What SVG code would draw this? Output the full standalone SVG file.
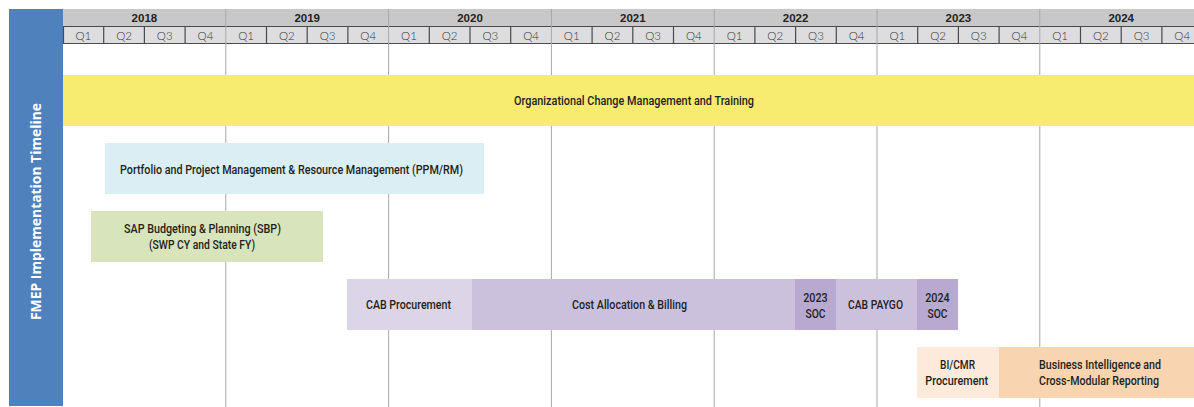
<svg xmlns="http://www.w3.org/2000/svg" width="1194" height="407" viewBox="0 0 1194 407">
  <style>
    .yr { fill: #c8c8c8; }
    .qrow { fill: #dddddf; }
    .grid { stroke: #a8a8a8; stroke-width: 1; fill: none; }
    .qline { stroke: #4a4a4a; stroke-width: 1.2; fill: none; }
    .yt { font-family: "Liberation Sans", Arial, sans-serif; font-weight: bold; font-size: 11.5px; fill: #222; text-anchor: middle; }
    .qt { font-family: Lato, "Open Sans", sans-serif; font-weight: 300; font-size: 11.5px; fill: #333; text-anchor: middle; }
    .lbl { font-family: Roboto, "Liberation Sans", sans-serif; font-weight: 500; font-size: 13px; fill: #231f20; text-anchor: middle; }
    .title { font-family: "Open Sans", "Noto Sans", sans-serif; font-weight: bold; font-size: 15px; fill: #ffffff; text-anchor: middle; }
  </style>

  <rect width="1194" height="407" fill="#ffffff"/>

  <!-- side title band -->
  <g id="title-band">
    <rect x="9" y="9" width="54" height="397" fill="#4f81bd"/>
    <text class="title" transform="translate(40.5 211.5) rotate(-90)" textLength="217" lengthAdjust="spacingAndGlyphs">FMEP Implementation Timeline</text>
  </g>

  <!-- header: years and quarters -->
  <g id="header">
    <rect class="yr" x="63" y="9" width="1131" height="17.5"/>
    <rect class="qrow" x="63" y="26.5" width="1131" height="17"/>
    <g class="yt">
      <text x="144.4" y="22">2018</text>
      <text x="307.2" y="22">2019</text>
      <text x="470" y="22">2020</text>
      <text x="632.8" y="22">2021</text>
      <text x="795.6" y="22">2022</text>
      <text x="958.4" y="22">2023</text>
      <text x="1121.2" y="22">2024</text>
    </g>
    <path class="qline" d="M63 26.5H1194M63 43.5H1194M63.5 26.5V43.5
      M103.7 26.5V43.5M144.4 26.5V43.5M185.1 26.5V43.5
      M266.5 26.5V43.5M307.2 26.5V43.5M347.9 26.5V43.5
      M429.3 26.5V43.5M470 26.5V43.5M510.7 26.5V43.5
      M592.1 26.5V43.5M632.8 26.5V43.5M673.5 26.5V43.5
      M754.9 26.5V43.5M795.6 26.5V43.5M836.3 26.5V43.5
      M917.7 26.5V43.5M958.4 26.5V43.5M999.1 26.5V43.5
      M1080.5 26.5V43.5M1121.2 26.5V43.5M1161.9 26.5V43.5"/>
    <g class="qt">
      <text x="83.35" y="39.5">Q1</text><text x="124.05" y="39.5">Q2</text><text x="164.75" y="39.5">Q3</text><text x="205.45" y="39.5">Q4</text>
      <text x="246.15" y="39.5">Q1</text><text x="286.85" y="39.5">Q2</text><text x="327.55" y="39.5">Q3</text><text x="368.25" y="39.5">Q4</text>
      <text x="408.95" y="39.5">Q1</text><text x="449.65" y="39.5">Q2</text><text x="490.35" y="39.5">Q3</text><text x="531.05" y="39.5">Q4</text>
      <text x="571.75" y="39.5">Q1</text><text x="612.45" y="39.5">Q2</text><text x="653.15" y="39.5">Q3</text><text x="693.85" y="39.5">Q4</text>
      <text x="734.55" y="39.5">Q1</text><text x="775.25" y="39.5">Q2</text><text x="815.95" y="39.5">Q3</text><text x="856.65" y="39.5">Q4</text>
      <text x="897.35" y="39.5">Q1</text><text x="938.05" y="39.5">Q2</text><text x="978.75" y="39.5">Q3</text><text x="1019.45" y="39.5">Q4</text>
      <text x="1060.15" y="39.5">Q1</text><text x="1100.85" y="39.5">Q2</text><text x="1141.55" y="39.5">Q3</text><text x="1182.25" y="39.5">Q4</text>
    </g>
  </g>

  <!-- year boundary rules -->
  <g id="connectors">
    <path class="grid" d="M225.8 9V407M388.6 9V407M551.4 9V407M714.2 9V407M877 9V407M1039.8 9V407"/>
  </g>

  <!-- workstream bars -->
  <g id="ocm">
    <rect x="63" y="75" width="1131" height="51" fill="#f7ec6f"/>
    <text class="lbl" x="634" y="104.5" textLength="240" lengthAdjust="spacingAndGlyphs">Organizational Change Management and Training</text>
  </g>

  <g id="ppm-rm">
    <rect x="105" y="143" width="379" height="51" fill="#dbeef4"/>
    <text class="lbl" x="291.5" y="173.5" textLength="343" lengthAdjust="spacingAndGlyphs">Portfolio and Project Management &amp; Resource Management (PPM/RM)</text>
  </g>

  <g id="sbp">
    <rect x="91" y="211" width="232" height="51" fill="#d7e4bc"/>
    <text class="lbl" x="202.5" y="233" textLength="157" lengthAdjust="spacingAndGlyphs">SAP Budgeting &amp; Planning (SBP)</text>
    <text class="lbl" x="202" y="249" textLength="106" lengthAdjust="spacingAndGlyphs">(SWP CY and State FY)</text>
  </g>

  <g id="cab-procurement">
    <rect x="347" y="279" width="125" height="51" fill="#dcd5e7"/>
    <text class="lbl" x="408.5" y="309" textLength="85" lengthAdjust="spacingAndGlyphs">CAB Procurement</text>
  </g>

  <g id="cost-allocation">
    <rect x="472" y="279" width="323" height="51" fill="#cbc1dc"/>
    <text class="lbl" x="629.5" y="309" textLength="115" lengthAdjust="spacingAndGlyphs">Cost Allocation &amp; Billing</text>
  </g>

  <g id="soc-2023">
    <rect x="795" y="279" width="41" height="51" fill="#b7a9cf"/>
    <text class="lbl" x="815.5" y="301.5" textLength="24.5" lengthAdjust="spacingAndGlyphs">2023</text>
    <text class="lbl" x="815.5" y="317.5" textLength="20" lengthAdjust="spacingAndGlyphs">SOC</text>
  </g>

  <g id="cab-paygo">
    <rect x="836" y="279" width="81" height="51" fill="#cbc1dc"/>
    <text class="lbl" x="875.5" y="309" textLength="55" lengthAdjust="spacingAndGlyphs">CAB PAYGO</text>
  </g>

  <g id="soc-2024">
    <rect x="917" y="279" width="41" height="51" fill="#b7a9cf"/>
    <text class="lbl" x="937.5" y="301.5" textLength="24.5" lengthAdjust="spacingAndGlyphs">2024</text>
    <text class="lbl" x="937.5" y="317.5" textLength="20" lengthAdjust="spacingAndGlyphs">SOC</text>
  </g>

  <g id="bicmr-procurement">
    <rect x="917" y="347" width="82" height="51" fill="#fdeadb"/>
    <text class="lbl" x="957.5" y="369" textLength="35" lengthAdjust="spacingAndGlyphs">BI/CMR</text>
    <text class="lbl" x="956.7" y="384.5" textLength="62.7" lengthAdjust="spacingAndGlyphs">Procurement</text>
  </g>

  <g id="bi-reporting">
    <rect x="999" y="347" width="195" height="51" fill="#f9d4b1"/>
    <text class="lbl" x="1100" y="369" textLength="122" lengthAdjust="spacingAndGlyphs">Business Intelligence and</text>
    <text class="lbl" x="1099" y="384.5" textLength="120" lengthAdjust="spacingAndGlyphs">Cross-Modular Reporting</text>
  </g>
</svg>
